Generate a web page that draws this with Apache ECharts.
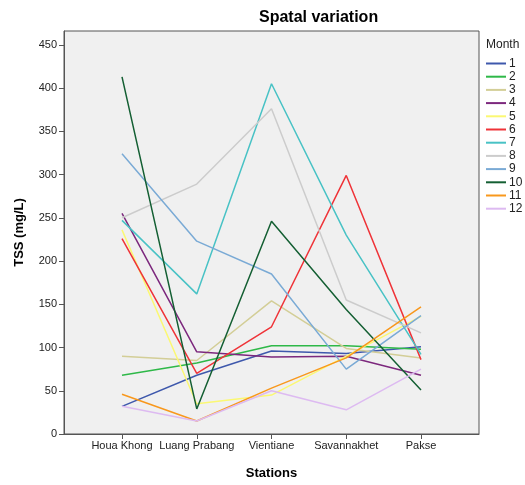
<!DOCTYPE html>
<html>
<head>
<meta charset="utf-8">
<script src="https://cdn.jsdelivr.net/npm/echarts@6/dist/echarts.min.js"></script>
<style>
  html, body { margin: 0; padding: 0; background: #ffffff; }
  #chart { width: 525px; height: 485px; }
</style>
</head>
<body>
<div id="chart"></div>
<script>
// Monitoring stations along the river, upstream to downstream
var stations = ['Houa Khong', 'Luang Prabang', 'Vientiane', 'Savannakhet', 'Pakse'];

// TSS (mg/L) per month, one value per station
var month1  = [32, 68, 96, 93, 101];
var month2  = [68, 82, 102, 102, 98];
var month3  = [90, 85, 154, 99, 88];
var month4  = [255, 95, 89, 90, 68];
var month5  = [236, 35, 45, 90, 136];
var month6  = [226, 70, 124, 299, 86];
var month7  = [247, 162, 405, 230, 92];
var month8  = [250, 289, 376, 155, 117];
var month9  = [324, 223, 185, 75, 137];
var month10 = [413, 29, 246, 144, 51];
var month11 = [46, 15, 53, 88, 147];
var month12 = [32, 15, 50, 28, 75];

var monthNames = ['1', '2', '3', '4', '5', '6', '7', '8', '9', '10', '11', '12'];
var monthValues = [month1, month2, month3, month4, month5, month6,
                   month7, month8, month9, month10, month11, month12];

// Y axis tick values
var yTicks = [0, 50, 100, 150, 200, 250, 300, 350, 400, 450];

var palette = ['#3E58AC', '#2EB848', '#D3CE97', '#7C287D', '#FBF873', '#EF3338',
               '#48C2C5', '#CCCCCC', '#7AAAD5', '#145F33', '#F8981D', '#DDBAF1'];

var font = '"Liberation Sans", Arial, sans-serif';
var xIdx = stations.map(function (s, i) { return i; });

var series = monthNames.map(function (name, m) {
  return {
    name: name,
    type: 'line',
    symbol: 'none',
    data: monthValues[m].map(function (v, i) { return [i, v]; }),
    lineStyle: { width: 1.5, color: palette[m] },
    itemStyle: { color: palette[m] },
    emphasis: { disabled: true },
    animation: false
  };
});

var chart = echarts.init(document.getElementById('chart'), null, { renderer: 'canvas' });
chart.setOption({
  animation: false,
  backgroundColor: '#ffffff',
  title: {
    text: 'Spatal variation',
    left: 254,
    top: 5,
    textStyle: { fontFamily: font, fontSize: 16, fontWeight: 'bold', color: '#000' }
  },
  grid: {
    left: 64, right: 46, top: 31, bottom: 48,
    show: true,
    backgroundColor: '#f0f0f0',
    borderColor: '#555555',
    borderWidth: 1
  },
  xAxis: {
    type: 'value',
    min: -0.776,
    max: 4.776,
    name: 'Stations',
    nameLocation: 'middle',
    nameGap: 33,
    nameTextStyle: { fontFamily: font, fontSize: 13, fontWeight: 'bold', color: '#000' },
    splitLine: { show: false },
    axisLine: { show: true, onZero: false, lineStyle: { color: '#555555', width: 1 } },
    axisTick: { show: true, customValues: xIdx, length: 5, lineStyle: { color: '#555555' } },
    axisLabel: {
      customValues: xIdx,
      margin: 6,
      fontFamily: font, fontSize: 11, color: '#222',
      formatter: function (v) { return stations[Math.round(v)]; }
    }
  },
  yAxis: {
    type: 'value',
    min: 0,
    max: 466,
    name: 'TSS (mg/L)',
    nameLocation: 'middle',
    nameGap: 38,
    nameTextStyle: { fontFamily: font, fontSize: 13, fontWeight: 'bold', color: '#000' },
    splitLine: { show: false },
    axisLine: { show: true, onZero: false, lineStyle: { color: '#555555', width: 1 } },
    axisTick: { show: true, customValues: yTicks, length: 5, lineStyle: { color: '#555555' } },
    axisLabel: {
      customValues: yTicks,
      margin: 7,
      fontFamily: font, fontSize: 11, color: '#222'
    }
  },
  legend: {
    orient: 'vertical',
    left: 486,
    top: 57,
    padding: 0,
    icon: 'rect',
    itemWidth: 20,
    itemHeight: 2,
    itemGap: 0.2,
    data: monthNames,
    textStyle: { fontFamily: font, fontSize: 12, lineHeight: 13, color: '#222', padding: [0, 0, 0, -2] },
    selectedMode: false
  },
  graphic: [{
    type: 'text',
    left: 486,
    top: 39,
    style: { text: 'Month', font: '12px ' + font, fill: '#222' }
  }],
  series: series
});
</script>
</body>
</html>
